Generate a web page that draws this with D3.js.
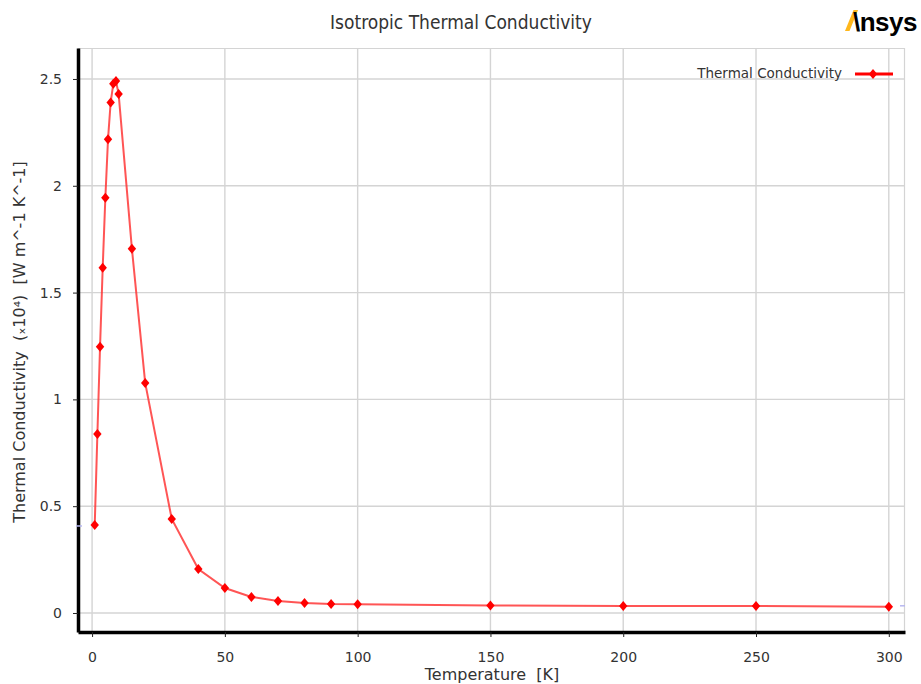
<!DOCTYPE html>
<html>
<head>
<meta charset="utf-8">
<script src="https://cdn.jsdelivr.net/npm/d3@7"></script>
<style>
  body { margin: 0; background: #fff; }
  svg { display: block; font-family: "DejaVu Sans", sans-serif; }
  text { white-space: pre; }
</style>
</head>
<body>
<div id="chart"></div>
<script>
// temperature [K] and conductivity (x10^4 W m^-1 K^-1)
const temperature = [1, 2, 3, 4, 5, 6, 7, 8, 9, 10, 15, 20, 30, 40, 50, 60, 70, 80, 90, 100, 150, 200, 250, 300];
const conductivity = [0.412, 0.838, 1.246, 1.616, 1.944, 2.218, 2.39, 2.478, 2.49, 2.43, 1.705, 1.077, 0.44, 0.206, 0.117, 0.075, 0.056, 0.047, 0.042, 0.041, 0.035, 0.033, 0.033, 0.029];
const xTicks = [0, 50, 100, 150, 200, 250, 300];
const yTicks = [0, 0.5, 1, 1.5, 2, 2.5];

const W = 921, H = 684;
const margin = { top: 48, right: 16, bottom: 52, left: 78 };
const width = W - margin.left - margin.right,
      height = H - margin.top - margin.bottom;

const svg = d3.select("#chart").append("svg")
    .attr("width", W).attr("height", H);

const x = d3.scaleLinear().domain([-5.3, 306.1]).range([0, width]);
const y = d3.scaleLinear().domain([-0.089, 2.645]).range([height, 0]);

const g = svg.append("g").attr("transform", `translate(${margin.left},${margin.top})`);

// grid
g.append("g").selectAll("line").data(xTicks).join("line")
    .attr("x1", d => x(d)).attr("x2", d => x(d))
    .attr("y1", 0).attr("y2", height)
    .attr("stroke", "#d4d4d4").attr("stroke-width", 1.4);
g.append("g").selectAll("line").data(yTicks).join("line")
    .attr("x1", 0).attr("x2", width)
    .attr("y1", d => y(d)).attr("y2", d => y(d))
    .attr("stroke", "#d4d4d4").attr("stroke-width", 1.4);
// plot border (top/right)
g.append("path")
    .attr("d", `M0,0.5H${width - 0.5}V${height}`)
    .attr("fill", "none").attr("stroke", "#d4d4d4").attr("stroke-width", 1.2);

// axes
const xAxis = g.append("g").attr("transform", `translate(0,${height})`)
    .call(d3.axisBottom(x).tickValues(xTicks).tickSize(5).tickPadding(15).tickSizeOuter(0));
const yAxis = g.append("g")
    .call(d3.axisLeft(y).tickValues(yTicks).tickSize(5).tickPadding(11).tickSizeOuter(0)
        .tickFormat(d => d3.format("")(d)));
[xAxis, yAxis].forEach(a => {
    a.select(".domain").attr("stroke", "#000").attr("stroke-width", 3.5);
    a.selectAll(".tick line").attr("stroke", "#222").attr("stroke-width", 1);
    a.selectAll(".tick text").attr("fill", "#333").attr("font-size", 14)
        .attr("font-family", "'DejaVu Sans', sans-serif");
});

// extrapolation hints
g.append("line")
    .attr("x1", -2).attr("x2", 4)
    .attr("y1", y(conductivity[0]) + 1).attr("y2", y(conductivity[0]) + 1)
    .attr("stroke", "#b8b8f0").attr("stroke-width", 1.5);
g.append("line")
    .attr("x1", width - 5).attr("x2", width)
    .attr("y1", y(conductivity[conductivity.length - 1]) - 1).attr("y2", y(conductivity[conductivity.length - 1]) - 1)
    .attr("stroke", "#b8b8f0").attr("stroke-width", 1.5);

// series
const pts = temperature.map((t, i) => [t, conductivity[i]]);
const line = d3.line().x(d => x(d[0])).y(d => y(d[1]));
g.append("path").datum(pts)
    .attr("d", line)
    .attr("fill", "none").attr("stroke", "#ff2a2a").attr("stroke-opacity", 0.8).attr("stroke-width", 2);
const diamond = "M0,-5L4.2,0L0,5L-4.2,0Z";
g.append("g").selectAll("path").data(pts).join("path")
    .attr("transform", d => `translate(${x(d[0])},${y(d[1])})`)
    .attr("d", diamond)
    .attr("fill", "#ff0000");

// legend
const lg = svg.append("g").attr("transform", "translate(842,74)");
lg.append("text").attr("x", 0).attr("y", 4).attr("text-anchor", "end")
    .attr("font-size", 13.5).attr("fill", "#333").text("Thermal Conductivity");
lg.append("line").attr("x1", 13).attr("x2", 51).attr("y1", 0).attr("y2", 0)
    .attr("stroke", "#ff0000").attr("stroke-width", 3);
lg.append("path").attr("transform", "translate(31,0)").attr("d", diamond).attr("fill", "#ff0000");

// title
svg.append("text").attr("x", 461).attr("y", 29).attr("text-anchor", "middle")
    .attr("font-family", "'DejaVu Sans Condensed', 'DejaVu Sans', sans-serif")
    .attr("font-size", 19).attr("fill", "#333").text("Isotropic Thermal Conductivity");

// axis labels
svg.append("text").attr("x", 492).attr("y", 680).attr("text-anchor", "middle")
    .attr("font-size", 16).attr("fill", "#333").text("Temperature  [K]");
svg.append("text").attr("transform", "translate(25,342) rotate(-90)").attr("text-anchor", "middle")
    .attr("font-size", 16).attr("fill", "#333")
    .text("Thermal Conductivity  (\u209310\u2074)  [W m^-1 K^-1]");

// Ansys logo
const logo = svg.append("g").attr("transform", "translate(845,31)");
logo.append("path").attr("d", "M0,0L8.5,-21L13,-21L4.5,0Z").attr("fill", "#ffb71b");
logo.append("text").attr("x", 8).attr("y", 0)
    .attr("font-family", "'Liberation Sans', Arial, sans-serif")
    .attr("font-weight", "bold").attr("font-size", 26).attr("fill", "#000")
    .attr("letter-spacing", -0.5)
    .text("\\nsys");
</script>
</body>
</html>
